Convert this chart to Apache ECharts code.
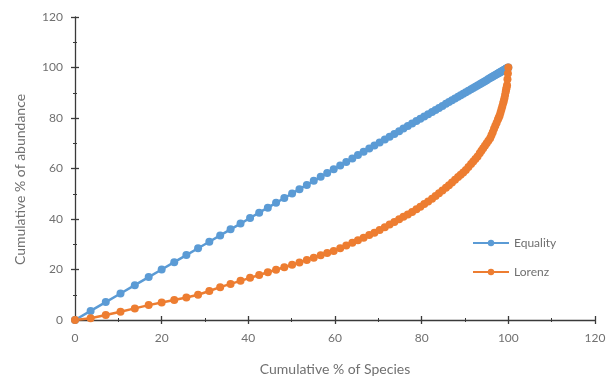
<!DOCTYPE html>
<html>
<head>
<meta charset="utf-8">
<script src="https://cdn.jsdelivr.net/npm/echarts@6/dist/echarts.min.js"></script>
<style>html,body{margin:0;padding:0;background:#fff}#c{width:614px;height:381px}</style>
</head>
<body>
<div id="c"></div>
<script>
// Cumulative % of species (x values, shared by both series)
var speciesPct = [0, 3.6, 7.1, 10.5, 13.8, 17.0, 20.0, 22.9, 25.7, 28.4, 31.0, 33.5, 35.9, 38.2, 40.4, 42.5, 44.5, 46.4, 48.3, 50.1, 51.8, 53.5, 55.1, 56.7, 58.2, 59.7, 61.2, 62.6, 64.0, 65.3, 66.6, 67.9, 69.1, 70.3, 71.5, 72.6, 73.7, 74.8, 75.8, 76.8, 77.8, 78.8, 79.7, 80.6, 81.5, 82.4, 83.2, 84.0, 84.8, 85.6, 86.3, 87.0, 87.7, 88.4, 89.0, 89.6, 90.2, 90.8, 91.4, 91.9, 92.4, 92.9, 93.4, 93.8, 94.2, 94.6, 95.0, 95.4, 95.8, 96.1, 96.4, 96.7, 97.0, 97.3, 97.6, 97.8, 98.0, 98.2, 98.4, 98.6, 98.8, 98.95, 99.1, 99.25, 99.4, 99.5, 99.6, 99.7, 99.8, 99.9, 100];
// Equality line: cumulative abundance equals cumulative species
var equalityPct = [0, 3.6, 7.1, 10.5, 13.8, 17.0, 20.0, 22.9, 25.7, 28.4, 31.0, 33.5, 35.9, 38.2, 40.4, 42.5, 44.5, 46.4, 48.3, 50.1, 51.8, 53.5, 55.1, 56.7, 58.2, 59.7, 61.2, 62.6, 64.0, 65.3, 66.6, 67.9, 69.1, 70.3, 71.5, 72.6, 73.7, 74.8, 75.8, 76.8, 77.8, 78.8, 79.7, 80.6, 81.5, 82.4, 83.2, 84.0, 84.8, 85.6, 86.3, 87.0, 87.7, 88.4, 89.0, 89.6, 90.2, 90.8, 91.4, 91.9, 92.4, 92.9, 93.4, 93.8, 94.2, 94.6, 95.0, 95.4, 95.8, 96.1, 96.4, 96.7, 97.0, 97.3, 97.6, 97.8, 98.0, 98.2, 98.4, 98.6, 98.8, 98.95, 99.1, 99.25, 99.4, 99.5, 99.6, 99.7, 99.8, 99.9, 100];
// Lorenz curve: cumulative % of abundance
var lorenzPct = [0, 0.7, 2.0, 3.3, 4.6, 5.9, 6.9, 7.9, 8.9, 10.0, 11.5, 13.0, 14.3, 15.5, 16.7, 17.8, 18.9, 19.9, 20.9, 21.9, 22.8, 23.8, 24.7, 25.6, 26.5, 27.3, 28.4, 29.5, 30.6, 31.6, 32.6, 33.7, 34.6, 35.6, 36.7, 37.8, 38.8, 39.9, 40.9, 41.8, 42.8, 43.9, 44.9, 45.9, 46.9, 48.0, 49.1, 50.2, 51.3, 52.4, 53.4, 54.5, 55.5, 56.6, 57.5, 58.4, 59.4, 60.6, 61.8, 62.8, 63.8, 64.8, 66.0, 67.0, 68.0, 69.0, 70.0, 71.0, 72.0, 73.2, 74.4, 75.7, 76.9, 78.1, 79.4, 80.2, 81.0, 82.2, 83.4, 84.6, 85.8, 86.7, 87.8, 89.1, 90.4, 91.3, 92.1, 93.0, 95.3, 97.6, 100];
var seriesNames = ['Equality', 'Lorenz'];
var xTitle = 'Cumulative % of Species';
var yTitle = 'Cumulative % of abundance';

function pairs(xs, ys) {
  var out = [];
  for (var i = 0; i < Math.min(xs.length, ys.length); i++) out.push([xs[i], ys[i]]);
  return out;
}

var FONT = 'Lato';
var axisCol = '#3a3a3a';
var textCol = '#707070';

function axisBase(extra) {
  var a = {
    type: 'value', min: 0, max: 120, interval: 20,
    splitLine: { show: false },
    axisLine: { show: true, onZero: false, lineStyle: { color: axisCol, width: 1.3 } },
    axisTick: { show: true, inside: false, length: 4, lineStyle: { color: axisCol, width: 1.3 } },
    minorTick: { show: true, splitNumber: 2, length: 2, lineStyle: { color: axisCol, width: 1 } },
    axisLabel: { color: textCol, fontFamily: FONT, fontSize: 12 }
  };
  for (var k in extra) a[k] = extra[k];
  return a;
}

var chart = echarts.init(document.getElementById('c'), null, { renderer: 'canvas' });
chart.setOption({
  animation: false,
  backgroundColor: '#fff',
  grid: { left: 75, right: 19, top: 17, bottom: 60, containLabel: false },
  legend: {
    orient: 'vertical', left: 467, top: 232, itemGap: 17,
    itemWidth: 36, itemHeight: 8,
    textStyle: { color: textCol, fontFamily: FONT, fontSize: 12 },
    data: seriesNames
  },
  xAxis: [
    axisBase({
      position: 'bottom',
      name: xTitle, nameLocation: 'middle', nameGap: 42,
      nameTextStyle: { color: textCol, fontFamily: FONT, fontSize: 14 },
      axisLabel: { color: textCol, fontFamily: FONT, fontSize: 12, margin: 12 }
    }),
    axisBase({
      position: 'bottom',
      axisLine: { show: false },
      axisTick: { show: true, inside: true, length: 4, lineStyle: { color: axisCol, width: 1.3 } },
      minorTick: { show: true, splitNumber: 2, length: 2, lineStyle: { color: axisCol, width: 1 } },
      axisLabel: { show: false }
    })
  ],
  yAxis: [
    axisBase({
      position: 'left',
      name: yTitle, nameLocation: 'middle', nameGap: 48, nameRotate: 90,
      nameTextStyle: { color: textCol, fontFamily: FONT, fontSize: 14, padding: [0, 22, 0, 0] },
      axisLabel: { color: textCol, fontFamily: FONT, fontSize: 12, margin: 12 }
    }),
    axisBase({
      position: 'left',
      axisLine: { show: false },
      axisTick: { show: true, inside: true, length: 4, lineStyle: { color: axisCol, width: 1.3 } },
      minorTick: { show: true, splitNumber: 2, length: 2, lineStyle: { color: axisCol, width: 1 } },
      axisLabel: { show: false }
    })
  ],
  series: [
    {
      name: seriesNames[0], type: 'line', xAxisIndex: 0, yAxisIndex: 0,
      data: pairs(speciesPct, equalityPct),
      symbol: 'circle', symbolSize: 8, showSymbol: true,
      lineStyle: { color: '#5B9BD5', width: 2.5 },
      itemStyle: { color: '#5B9BD5' }
    },
    {
      name: seriesNames[1], type: 'line', xAxisIndex: 0, yAxisIndex: 0,
      data: pairs(speciesPct, lorenzPct),
      symbol: 'circle', symbolSize: 8, showSymbol: true,
      lineStyle: { color: '#ED7D31', width: 2.5 },
      itemStyle: { color: '#ED7D31' }
    }
  ]
});
</script>
</body>
</html>
